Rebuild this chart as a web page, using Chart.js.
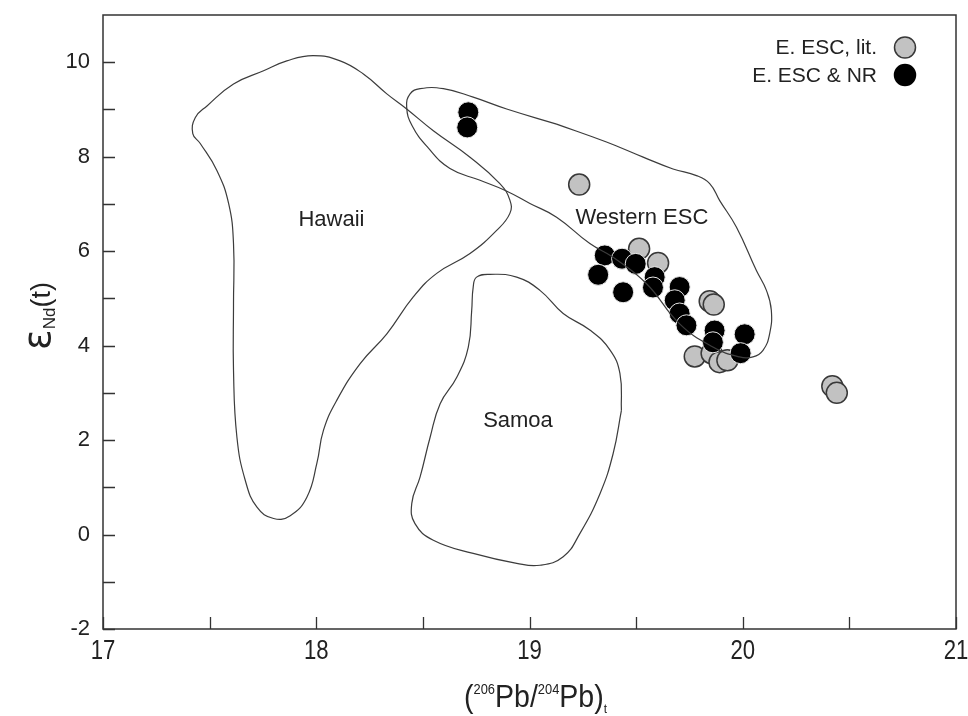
<!DOCTYPE html>
<html>
<head>
<meta charset="utf-8">
<script src="https://cdn.jsdelivr.net/npm/chart.js@4/dist/chart.umd.min.js"></script>
<style>
  html, body { margin: 0; padding: 0; background: #fff; }
  canvas { display: block; }
</style>
</head>
<body>
<canvas id="chart" width="968" height="716"></canvas>
<script>
// Axis ticks
const xTickLabels = [17, 18, 19, 20, 21];
const xMinorTicks = [17.5, 18.5, 19.5, 20.5];
const yTickLabels = [-2, 0, 2, 4, 6, 8, 10];
const yMinorTicks = [-1, 1, 3, 5, 7, 9];

// Series names
const seriesNames = ['E. ESC, lit.', 'E. ESC & NR'];

// E. ESC, literature data: 206Pb/204Pb(t) and eNd(t)
const litPb = [19.233, 19.514, 19.603, 19.845, 19.864, 19.775, 19.854, 19.891, 19.928, 20.420, 20.441];
const litNd = [7.41, 6.05, 5.75, 4.94, 4.87, 3.77, 3.84, 3.65, 3.69, 3.14, 3.00];

// E. ESC & NR data
const nrPb = [18.713, 18.708, 19.353, 19.322, 19.434, 19.498, 19.439, 19.587, 19.579, 19.704, 19.681, 19.704, 19.736, 19.868, 19.860, 20.009, 19.990];
const nrNd = [8.94, 8.62, 5.91, 5.50, 5.84, 5.73, 5.13, 5.45, 5.23, 5.24, 4.96, 4.68, 4.43, 4.32, 4.07, 4.24, 3.84];

// Field outlines (closed loops)
const hawaiiPb = [17.612, 17.612, 17.589, 17.534, 17.456, 17.421, 17.433, 17.489, 17.612, 17.753, 17.862, 17.985, 18.112, 18.221, 18.331, 18.424, 18.549, 18.721, 18.861, 18.908, 18.908, 18.846, 18.721, 18.565, 18.455, 18.331, 18.206, 18.096, 18.034, 18.003, 17.956, 17.878, 17.800, 17.722, 17.667, 17.628, 17.612, 17.612];
const hawaiiNd = [4.89, 6.16, 7.01, 7.71, 8.28, 8.49, 8.83, 9.08, 9.54, 9.82, 10.03, 10.14, 10.03, 9.75, 9.33, 9.01, 8.55, 7.99, 7.43, 7.08, 6.80, 6.44, 5.95, 5.53, 5.03, 4.25, 3.62, 2.84, 2.21, 1.51, 0.79, 0.40, 0.34, 0.58, 1.15, 2.06, 3.48, 4.89];

const samoaPb = [19.431, 19.392, 19.331, 19.236, 19.158, 19.049, 18.940, 18.736, 18.549, 18.463, 18.448, 18.487, 18.534, 18.581, 18.659, 18.713, 18.729, 18.736, 18.752, 18.815, 18.940, 19.049, 19.158, 19.283, 19.377, 19.424, 19.431];
const samoaNd = [2.63, 1.71, 0.87, 0.02, -0.47, -0.65, -0.61, -0.40, -0.12, 0.23, 0.66, 1.22, 2.06, 2.77, 3.33, 3.97, 4.75, 5.24, 5.45, 5.51, 5.45, 5.17, 4.68, 4.33, 3.91, 3.41, 2.63];

const westPb = [19.127, 19.361, 19.533, 19.673, 19.783, 19.845, 19.892, 19.970, 20.064, 20.111, 20.134, 20.126, 20.095, 20.048, 19.985, 19.860, 19.704, 19.549, 19.392, 19.283, 19.127, 19.002, 18.889, 18.768, 18.627, 18.524, 18.449, 18.424, 18.440, 18.487, 18.596, 18.736, 18.893, 19.127];
const westNd = [8.69, 8.31, 7.99, 7.74, 7.60, 7.43, 7.07, 6.51, 5.59, 5.17, 4.75, 4.25, 3.90, 3.76, 3.76, 3.97, 4.46, 5.31, 5.87, 6.16, 6.72, 7.01, 7.28, 7.50, 7.75, 8.19, 8.66, 9.05, 9.33, 9.44, 9.44, 9.26, 9.01, 8.69];

// Field names and where they sit
const fieldNames = ['Hawaii', 'Samoa', 'Western ESC'];
const fieldLabelAt = [[18.071, 6.66], [18.946, 2.40], [19.527, 6.70]];

const pts = (xs, ys) => xs.map((x, i) => ({ x, y: ys[i] }));

const INK = '#222';
const SANS = '"Liberation Sans", Arial, Helvetica, sans-serif';
const GRAY_FILL = '#c2c2c2';
const GRAY_EDGE = '#383838';

const outline = (data) => ({
  type: 'line', data, showLine: true, fill: false,
  borderColor: '#3c3c3c', borderWidth: 1.2, tension: 0.45,
  pointRadius: 0, pointHoverRadius: 0, order: 0
});

// Frame, inward ticks, x labels, titles, field names and legend
const decor = {
  id: 'decor',
  afterDraw(chart) {
    const { ctx, chartArea: a, scales: { x, y } } = chart;
    ctx.save();
    ctx.strokeStyle = '#333';
    ctx.lineWidth = 1.5;
    ctx.strokeRect(a.left, a.top, a.right - a.left, a.bottom - a.top);

    const TL = 12;
    ctx.lineWidth = 1.3;
    ctx.beginPath();
    [...xTickLabels, ...xMinorTicks].forEach(v => {
      const px = Math.round(x.getPixelForValue(v)) + 0.5;
      ctx.moveTo(px, a.bottom); ctx.lineTo(px, a.bottom - TL);
    });
    [...yTickLabels, ...yMinorTicks].forEach(v => {
      const py = Math.round(y.getPixelForValue(v)) + 0.5;
      ctx.moveTo(a.left, py); ctx.lineTo(a.left + TL, py);
    });
    ctx.stroke();

    // x tick labels in a condensed face
    ctx.fillStyle = INK;
    ctx.textAlign = 'center';
    ctx.textBaseline = 'top';
    ctx.font = '27px ' + SANS;
    xTickLabels.forEach(v => {
      const px = x.getPixelForValue(v);
      ctx.save();
      ctx.translate(px, a.bottom + 9);
      ctx.scale(0.82, 1);
      ctx.fillText(String(v), 0, 0);
      ctx.restore();
    });

    // runs of text with size and vertical shift
    const drawRuns = (runs, scaleX) => {
      ctx.textAlign = 'left';
      ctx.textBaseline = 'alphabetic';
      let w = 0;
      runs.forEach(r => { ctx.font = r.size + 'px ' + (r.family || SANS); r.w = ctx.measureText(r.t).width; w += r.w; });
      let cx = -w / 2;
      ctx.scale(scaleX, 1);
      runs.forEach(r => { ctx.font = r.size + 'px ' + (r.family || SANS); ctx.fillText(r.t, cx, r.dy); cx += r.w; });
    };

    // x title
    ctx.save();
    ctx.translate((a.left + a.right) / 2 + 6, 707);
    drawRuns([
      { t: '(', size: 31, dy: 0 },
      { t: '206', size: 14, dy: -13 },
      { t: 'Pb/', size: 31, dy: 0 },
      { t: '204', size: 14, dy: -13 },
      { t: 'Pb)', size: 31, dy: 0 },
      { t: 't', size: 13, dy: 6 }
    ], 0.92);
    ctx.restore();

    // y title
    ctx.save();
    ctx.translate(50, 316);
    ctx.rotate(-Math.PI / 2);
    drawRuns([
      { t: '\u03B5', size: 38, dy: 0, family: '"DejaVu Sans", sans-serif' },
      { t: 'Nd', size: 17, dy: 5 },
      { t: '(t)', size: 27, dy: 0 }
    ], 1);
    ctx.restore();

    // field names
    ctx.fillStyle = INK;
    ctx.font = '22px ' + SANS;
    ctx.textAlign = 'center';
    ctx.textBaseline = 'middle';
    fieldNames.forEach((n, i) => {
      const [fx, fy] = fieldLabelAt[i];
      ctx.fillText(n, x.getPixelForValue(fx), y.getPixelForValue(fy));
    });

    // legend
    const rows = [
      { name: seriesNames[0], fill: GRAY_FILL, edge: GRAY_EDGE, cy: 47.5 },
      { name: seriesNames[1], fill: '#000', edge: '#000', cy: 75 }
    ];
    ctx.font = '21px ' + SANS;
    ctx.textAlign = 'right';
    rows.forEach(r => {
      ctx.fillStyle = INK;
      ctx.fillText(r.name, 877, r.cy + 1);
      ctx.beginPath();
      ctx.arc(905, r.cy, 10.5, 0, Math.PI * 2);
      ctx.fillStyle = r.fill; ctx.fill();
      ctx.lineWidth = 1.5; ctx.strokeStyle = r.edge; ctx.stroke();
    });
    ctx.restore();
  }
};

new Chart(document.getElementById('chart'), {
  type: 'scatter',
  data: {
    datasets: [
      outline(pts(hawaiiPb, hawaiiNd)),
      outline(pts(samoaPb, samoaNd)),
      outline(pts(westPb, westNd)),
      {
        label: seriesNames[0], data: pts(litPb, litNd),
        backgroundColor: GRAY_FILL, borderColor: GRAY_EDGE, borderWidth: 1.5,
        pointRadius: 10.5, pointHoverRadius: 10.5, order: 2
      },
      {
        label: seriesNames[1], data: pts(nrPb, nrNd),
        backgroundColor: '#000', borderColor: '#e6e6e6', borderWidth: 1,
        pointRadius: 10.5, pointHoverRadius: 10.5, order: 1
      }
    ]
  },
  options: {
    responsive: false,
    animation: false,
    events: [],
    layout: { padding: { left: 0, right: 11, top: 15, bottom: 0 } },
    plugins: { legend: { display: false }, tooltip: { enabled: false } },
    scales: {
      x: {
        type: 'linear', min: 17, max: 21,
        grid: { display: false, drawTicks: false },
        border: { display: false },
        ticks: { display: false },
        afterFit: s => { s.height = 87; s.paddingLeft = 0; s.paddingRight = 0; }
      },
      y: {
        type: 'linear', min: -2, max: 11,
        grid: { display: false, drawTicks: false },
        border: { display: false },
        ticks: { color: INK, font: { size: 22, family: SANS }, padding: 13 },
        afterBuildTicks: s => { s.ticks = yTickLabels.map(v => ({ value: v })); },
        afterFit: s => { s.width = 103; s.paddingTop = 0; s.paddingBottom = 0; }
      }
    }
  },
  plugins: [decor]
});
</script>
</body>
</html>
